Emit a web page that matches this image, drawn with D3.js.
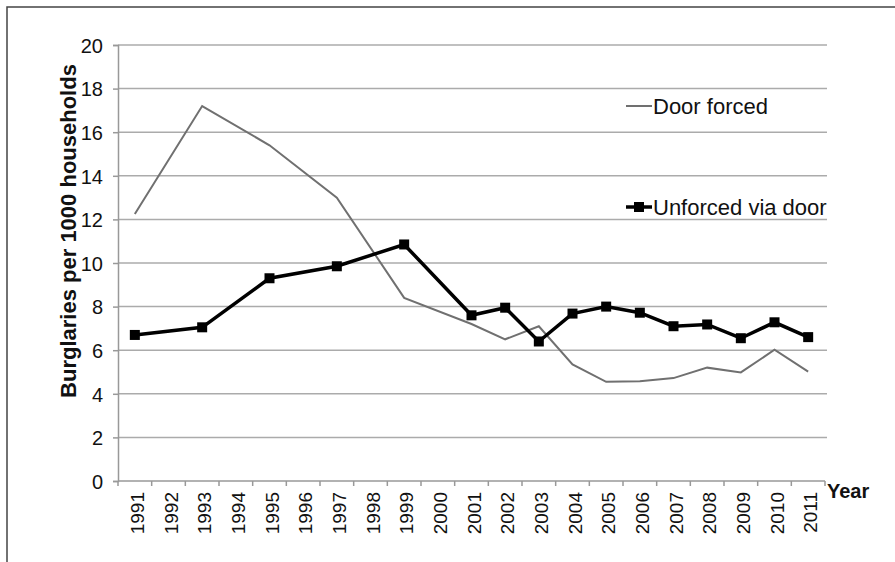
<!DOCTYPE html>
<html>
<head>
<meta charset="utf-8">
<script src="https://cdn.jsdelivr.net/npm/d3@7"></script>
<style>
	body { margin: 0; background: white; }
	svg { font-family: "Liberation Sans", Arial, sans-serif; }
</style>
</head>
<body>
<div id="chart"></div>
<script>
const years = ['1991','1992','1993','1994','1995','1996','1997','1998','1999','2000',
	'2001','2002','2003','2004','2005','2006','2007','2008','2009','2010','2011'];
const yTicks = [0, 2, 4, 6, 8, 10, 12, 14, 16, 18, 20];

const doorForcedYears = ['1991','1993','1995','1997','1999','2001','2002','2003','2004','2005','2006','2007','2008','2009','2010','2011'];
const doorForced = [12.25, 17.2, 15.4, 13.0, 8.4, 7.2, 6.5, 7.1, 5.35, 4.55, 4.58, 4.72, 5.2, 4.98, 6.02, 5.02];

const unforcedYears = ['1991','1993','1995','1997','1999','2001','2002','2003','2004','2005','2006','2007','2008','2009','2010','2011'];
const unforced = [6.7, 7.05, 9.3, 9.85, 10.85, 7.6, 7.95, 6.4, 7.68, 8.0, 7.72, 7.1, 7.18, 6.55, 7.28, 6.6];

const legendNames = ['Door forced', 'Unforced via door'];

let svgWidth = 895;
let svgHeight = 562;
let padding = { left: 118, right: 72, top: 45, bottom: 81 };

let svg = d3.select('#chart').append('svg')
	.attr('width', svgWidth)
	.attr('height', svgHeight);

// frame
svg.append('path')
	.attr('d', `M7,${svgHeight} L7,7 L${svgWidth},7`)
	.attr('fill', 'none')
	.attr('stroke', '#444')
	.attr('stroke-width', 1.5);

let x = d3.scaleBand()
	.domain(years)
	.range([padding.left, svgWidth - padding.right + 2]);

let y = d3.scaleLinear()
	.domain([0, 20])
	.range([svgHeight - padding.bottom, padding.top]);

// grid lines
svg.append('g')
	.selectAll('line')
	.data(yTicks.filter(d => d > 0))
	.enter()
	.append('line')
	.attr('x1', padding.left)
	.attr('x2', svgWidth - 68)
	.attr('y1', d => y(d))
	.attr('y2', d => y(d))
	.attr('stroke', '#ababab')
	.attr('stroke-width', 1.5);

// y axis
let axis_y = d3.axisLeft(y)
	.tickValues(yTicks)
	.tickSize(5)
	.tickFormat(d => d);

let gy = svg.append('g')
	.attr('transform', `translate(${padding.left},0)`)
	.call(axis_y);
gy.select('.domain').attr('stroke', '#999').attr('stroke-width', 1.5);
gy.selectAll('.tick line').attr('stroke', '#999').attr('stroke-width', 1.5);
gy.selectAll('.tick text')
	.attr('x', -15)
	.attr('dy', '0.36em')
	.attr('fill', '#111')
	.style('font-size', '20px')
	.style('font-family', '"Liberation Sans", Arial, sans-serif');

// x axis
let gx = svg.append('g')
	.attr('transform', `translate(0,${y(0)})`);
gx.append('line')
	.attr('x1', padding.left)
	.attr('x2', x.range()[1])
	.attr('stroke', '#999')
	.attr('stroke-width', 1.5);
gx.selectAll('line.tk')
	.data(years.concat(['end']))
	.enter()
	.append('line')
	.attr('class', 'tk')
	.attr('x1', (d, i) => padding.left + i * x.step())
	.attr('x2', (d, i) => padding.left + i * x.step())
	.attr('y1', 0)
	.attr('y2', 5)
	.attr('stroke', '#999')
	.attr('stroke-width', 1.5);
gx.selectAll('text')
	.data(years)
	.enter()
	.append('text')
	.attr('transform', d => `translate(${x(d) + x.bandwidth() / 2 + 9},${11}) rotate(-90)`)
	.attr('text-anchor', 'end')
	.attr('fill', '#111')
	.style('font-size', '19px')
	.text(d => d);

svg.append('text')
	.attr('x', x.range()[1] + 2)
	.attr('y', y(0) + 17)
	.attr('fill', '#111')
	.attr('font-weight', 'bold')
	.style('font-size', '20px')
	.text('Year');

svg.append('text')
	.attr('transform', `translate(76,231) rotate(-90)`)
	.attr('text-anchor', 'middle')
	.attr('fill', '#111')
	.attr('font-weight', 'bold')
	.style('font-size', '22px')
	.text('Burglaries per 1000 households');

let cx = d => x(d) + x.bandwidth() / 2;

// door forced line
let line = d3.line()
	.x(d => cx(d[0]))
	.y(d => y(d[1]));

svg.append('path')
	.datum(doorForcedYears.map((d, i) => [d, doorForced[i]]))
	.attr('d', line)
	.attr('fill', 'none')
	.attr('stroke', '#707070')
	.attr('stroke-width', 2);

let unforcedData = unforcedYears.map((d, i) => [d, unforced[i]]);
svg.append('path')
	.datum(unforcedData)
	.attr('d', line)
	.attr('fill', 'none')
	.attr('stroke', '#000')
	.attr('stroke-width', 3.5);

svg.selectAll('rect.point')
	.data(unforcedData)
	.enter()
	.append('rect')
	.attr('class', 'point')
	.attr('x', d => cx(d[0]) - 5)
	.attr('y', d => y(d[1]) - 5)
	.attr('width', 10)
	.attr('height', 10)
	.attr('fill', '#000');

// legend
let legend = svg.selectAll('.legend')
	.data(legendNames)
	.enter()
	.append('g')
	.attr('class', 'legend')
	.attr('transform', (d, i) => `translate(626,${106 + i * 101})`);

legend.append('line')
	.attr('x1', 0)
	.attr('x2', 26)
	.attr('stroke', (d, i) => i === 0 ? '#707070' : '#000')
	.attr('stroke-width', (d, i) => i === 0 ? 2 : 3.5);

legend.filter((d, i) => i === 1)
	.append('rect')
	.attr('x', 8)
	.attr('y', -5)
	.attr('width', 10)
	.attr('height', 10)
	.attr('fill', '#000');

legend.append('text')
	.attr('x', 27)
	.attr('y', 8)
	.attr('fill', '#111')
	.style('font-size', '22px')
	.text(d => d);
</script>
</body>
</html>
